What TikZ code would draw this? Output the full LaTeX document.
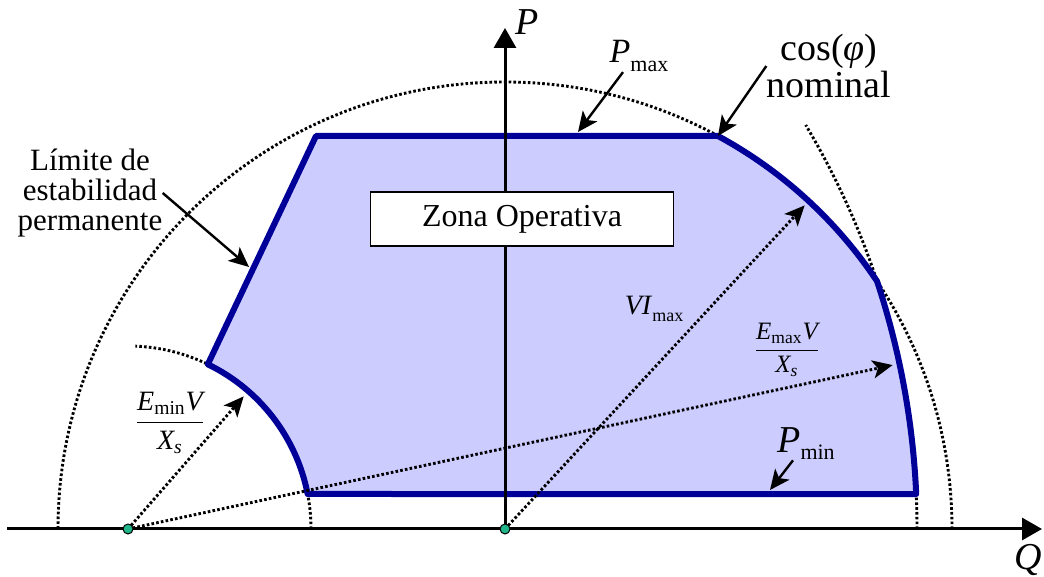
\documentclass[tikz,border=0pt]{standalone}
\usepackage{fontspec}
\setmainfont{Liberation Serif}
\usepackage{amsmath}
\usetikzlibrary{arrows.meta, calc}
\definecolor{zoneFill}{HTML}{CCCCFF}
\definecolor{zoneEdge}{HTML}{000099}
\definecolor{dotGreen}{HTML}{20B58A}

\begin{document}
\begin{tikzpicture}[x=0.5pt, y=0.5pt,
    axis/.style={line width=1.5pt, -{Triangle[length=10pt, width=11pt]}},
    guide/.style={line width=1.45pt, dash pattern=on 1.3pt off 1.1pt},
    radiusarrow/.style={guide, -{Stealth[length=10pt, width=9pt, inset=2.5pt]}},
    callout/.style={line width=1.2pt, -{Stealth[length=10pt, width=9pt, inset=2.5pt]}},
    origin/.style={circle, inner sep=0pt, minimum size=5pt, fill=dotGreen, draw=black, line width=0.5pt},
    lbl/.style={inner sep=0pt, align=center}]
  \useasboundingbox (0,0) rectangle (1044,577);
  \coordinate (O) at (505,48);
  \coordinate (S) at (128,48);
  \coordinate (A) at (316,441);
  \coordinate (B) at ($(O)+(61.55:447)$);
  \coordinate (E) at ($(S)+(11.03:183)$);
  \coordinate (qstart) at (7,48);
  \coordinate (qend) at (1042,48);
  \coordinate (pend) at (505,549);

  \draw[guide] ($(O)+(447,0)$) arc[start angle=0, end angle=180, radius=447];
  \draw[guide] ($(S)+(789,0)$) arc[start angle=0, end angle=30.8, radius=789];
  \draw[guide] ($(S)+(183,0)$) arc[start angle=0, end angle=87.7, radius=183];

  \filldraw[fill=zoneFill, draw=zoneEdge, line width=3pt, line join=round]
    (A) -- (B) arc[start angle=61.55, end angle=33.65, radius=447]
    arc[start angle=18.30, end angle=2.54, radius=789] -- (E)
    arc[start angle=11.03, end angle=64.14, radius=183] -- cycle;

  \draw[axis] (qstart) -- (qend);
  \draw[axis] (O) -- (pend);
  \node[lbl, font=\fontsize{19}{19}\selectfont\itshape] (plbl) at (527,555) {P};
  \node[lbl, font=\fontsize{19}{19}\selectfont\itshape] (qlbl) at (1028,17) {Q};

  \coordinate (vitip) at ($(O)+(47.2:441)$);
  \coordinate (emaxtip) at ($(S)+(12.1:782)$);
  \coordinate (emintip) at ($(S)+(48.9:176)$);
  \draw[radiusarrow] (O) -- (vitip);
  \draw[radiusarrow] (S) -- (emaxtip);
  \draw[radiusarrow] (S) -- (emintip);
  \node[origin] (o) at (O) {};
  \node[origin] (s) at (S) {};

  \node[draw, fill=white, line width=0.6pt, minimum width=151.5pt, minimum height=27pt,
    font=\fontsize{16}{16}\selectfont] (zona) at (522,358) {Zona Operativa};

  \node[lbl, font=\fontsize{15.5}{14.8}\selectfont] (lim) at (90,384) {Límite de\\estabilidad\\permanente};
  \coordinate (limtip) at (249,310);
  \draw[callout] (lim.east) -- (limtip);

  \node[lbl, font=\fontsize{17}{17}\selectfont] (pmax) at (639,521)
    {\textit{P}\raisebox{-4.5pt}{\fontsize{11}{11}\selectfont max}};
  \coordinate (pmaxtip) at (578,445);
  \draw[callout] ([xshift=-8pt]pmax.south) -- (pmaxtip);

  \node[lbl, font=\fontsize{19}{16}\selectfont] (cosnom) at (829,511) {cos(\textit{φ})\\nominal};
  \draw[callout] (cosnom.west) -- (B);

  \node[lbl, font=\fontsize{14}{14}\selectfont] (vimax) at (654,268)
    {\textit{VI}\raisebox{-3.5pt}{\fontsize{9}{9}\selectfont max}};
  \node[lbl, font=\fontsize{12.5}{12.5}\selectfont] (emax) at (787,227)
    {$\dfrac{\textit{E}_{\text{max}}\textit{V}}{\textit{X}_{\textit{s}}}$};
  \node[lbl, font=\fontsize{14}{14}\selectfont] (emin) at (170,154)
    {$\dfrac{\textit{E}_{\text{min}}\textit{V}}{\textit{X}_{\textit{s}}}$};

  \node[lbl, font=\fontsize{19}{19}\selectfont] (pmin) at (806,133)
    {\textit{P}\raisebox{-3.5pt}{\fontsize{11}{11}\selectfont min}};
  \coordinate (pmintip) at (770,87);
  \draw[callout] ([xshift=-6.5pt]pmin.south) -- (pmintip);
\end{tikzpicture}
\end{document}
